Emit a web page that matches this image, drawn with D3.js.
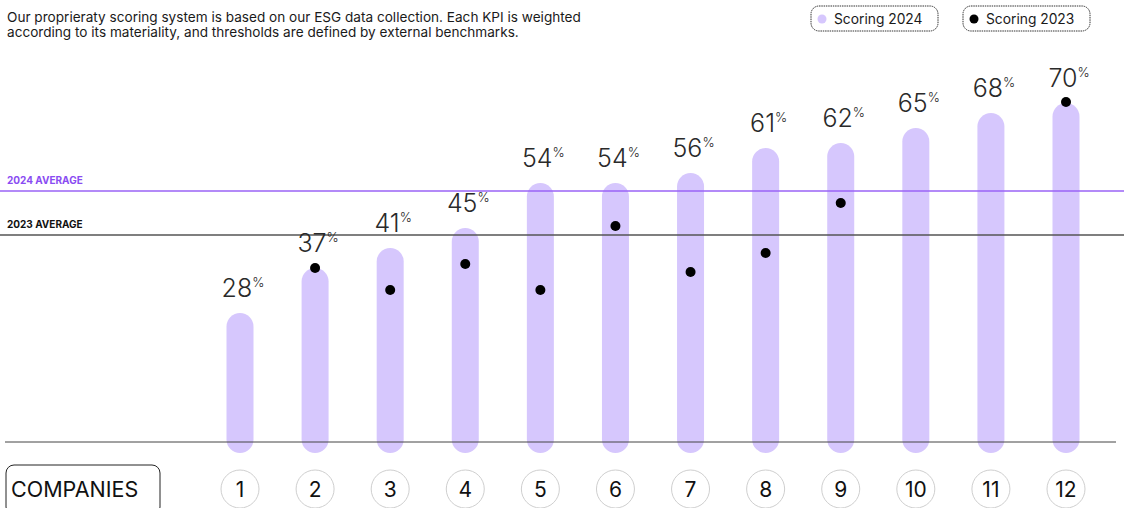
<!DOCTYPE html>
<html>
<head>
<meta charset="utf-8">
<script src="https://cdn.jsdelivr.net/npm/d3@7"></script>
<style>
  html, body { margin: 0; padding: 0; background: #fff; }
  svg { display: block; }
</style>
</head>
<body>
<svg id="chart" width="1124" height="508"></svg>
<script>
// ESG scores per company
const companies = ["1","2","3","4","5","6","7","8","9","10","11","12"];
const scoring2024 = [28, 37, 41, 45, 54, 54, 56, 61, 62, 65, 68, 70];
const scoring2023 = [null, 37, 32.6, 37.8, 32.6, 45.4, 36.2, 40, 50, null, null, 70.2];
const averages = [
  { label: "2024 AVERAGE", value: 52.4, color: "#9a63f6", text: "#8a4cf2" },
  { label: "2023 AVERAGE", value: 43.6, color: "#555555", text: "#111111" }
];
const legendItems = [
  { label: "Scoring 2024", color: "#d6c7fd" },
  { label: "Scoring 2023", color: "#000000" }
];
const intro = [
  "Our proprieraty scoring system is based on our ESG data collection. Each KPI is weighted",
  "according to its materiality, and thresholds are defined by external benchmarks."
];

const W = 1124, H = 508;
const svg = d3.select("#chart");
const font = "Inter, 'Noto Sans', sans-serif";

const x = d3.scalePoint().domain(companies).range([240, 1066]);
const y = d3.scaleLinear().domain([0, 70]).range([453, 103]);
const barW = 27;

// Intro text
svg.append("g").selectAll("text").data(intro).join("text")
  .attr("x", 7).attr("y", (d, i) => 22 + i * 15)
  .attr("font-family", font).attr("font-size", 13.6).attr("fill", "#1a1a1a")
  .text(d => d);

// Legend pills
const lg = svg.append("g").selectAll("g").data(legendItems).join("g")
  .attr("transform", (d, i) => `translate(${811 + i * 152},6)`);
lg.append("rect").attr("width", 127).attr("height", 25).attr("rx", 8)
  .attr("fill", "#fff").attr("stroke", "#333").attr("stroke-width", 1)
  .attr("stroke-dasharray", "1.5,0.8");
lg.append("circle").attr("cx", 11).attr("cy", 13).attr("r", 4.5).attr("fill", d => d.color);
lg.append("text").attr("x", 23).attr("y", 18)
  .attr("font-family", font).attr("font-size", 13.8).attr("fill", "#1a1a1a")
  .text(d => d.label);

// Bars (2024)
svg.append("g").selectAll("rect").data(scoring2024).join("rect")
  .attr("x", (d, i) => x(companies[i]) - barW / 2)
  .attr("y", d => y(d))
  .attr("width", barW)
  .attr("height", d => y(0) - y(d))
  .attr("rx", barW / 2)
  .attr("fill", "#d6c7fd");

// Average lines
const avg = svg.append("g").selectAll("g").data(averages).join("g");
avg.append("line")
  .attr("x1", 0).attr("x2", W)
  .attr("y1", d => y(d.value)).attr("y2", d => y(d.value))
  .attr("stroke", d => d.color).attr("stroke-width", 1.5);
avg.append("text")
  .attr("x", 7).attr("y", d => y(d.value) - 7)
  .attr("font-family", font).attr("font-size", 10).attr("font-weight", 700)
  .attr("fill", d => d.text)
  .text(d => d.label);

// Baseline
svg.append("line").attr("x1", 5).attr("x2", 1116).attr("y1", 442).attr("y2", 442)
  .attr("stroke", "#444").attr("stroke-width", 1);

// Dots (2023)
svg.append("g").selectAll("circle")
  .data(scoring2023.map((v, i) => ({ v, c: companies[i] })).filter(d => d.v !== null))
  .join("circle")
  .attr("cx", d => x(d.c)).attr("cy", d => y(d.v)).attr("r", 5).attr("fill", "#000");

// Value labels
const lbl = svg.append("g").selectAll("text").data(scoring2024).join("text")
  .attr("x", (d, i) => x(companies[i]) + 3)
  .attr("y", d => y(d) - 16)
  .attr("text-anchor", "middle")
  .attr("font-family", font).attr("font-weight", 300).attr("fill", "#2a2a2a");
lbl.append("tspan").attr("font-size", 25).text(d => d);
lbl.append("tspan").attr("font-size", 13).attr("dy", -10).text("%");

// Company axis
const cg = svg.append("g").selectAll("g").data(companies).join("g")
  .attr("transform", d => `translate(${x(d)},489)`);
cg.append("circle").attr("r", 19).attr("fill", "#fff").attr("stroke", "#cfcfcf");
cg.append("text").attr("text-anchor", "middle").attr("y", 7.5)
  .attr("font-family", font).attr("font-size", 21).attr("fill", "#111")
  .text(d => d);

// "COMPANIES" tag
svg.append("rect").attr("x", 6).attr("y", 465).attr("width", 154).attr("height", 50)
  .attr("rx", 8).attr("fill", "none").attr("stroke", "#222").attr("stroke-width", 1);
svg.append("text").attr("x", 11).attr("y", 497)
  .attr("font-family", font).attr("font-size", 21.5).attr("fill", "#111")
  .text("COMPANIES");
</script>
</body>
</html>
